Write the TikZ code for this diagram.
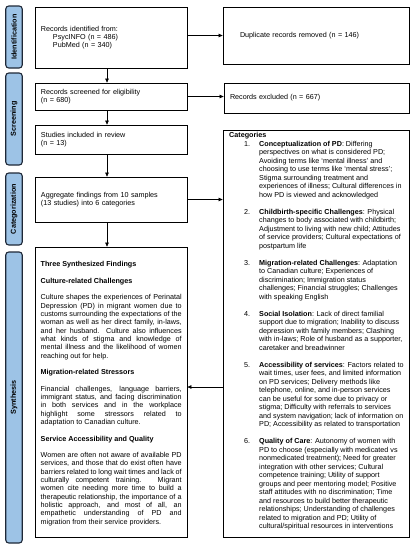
\documentclass[tikz,border=0pt]{standalone}
\usepackage{fontspec}
\setmainfont{Liberation Sans}
\usetikzlibrary{arrows.meta}
\definecolor{stagefill}{RGB}{157,195,230}
\definecolor{stageline}{RGB}{30,40,55}
\begin{document}
\begin{tikzpicture}[x=1pt,y=-1pt,
  font=\fontsize{7.2}{8.3}\selectfont,
  stage/.style={draw=stageline, line width=1.1pt, fill=stagefill, rounded corners=3pt,
    inner sep=0pt, rotate=90, minimum height=16.5pt, font=\fontsize{7.2}{8.3}\selectfont\bfseries},
  box/.style={draw=black, line width=0.8pt, inner sep=0pt, align=left},
  arr/.style={draw=black, line width=0.7pt, -{Triangle[length=4pt,width=3.6pt]}}
]
\useasboundingbox (0,0) rectangle (414,550);

% stage labels
\node[stage, minimum width=62pt] (sid) at (14,37) {Identification};
\node[stage, minimum width=92pt] (sscr) at (14,119) {Screening};
\node[stage, minimum width=72pt] (scat) at (14,209) {Categorization};
\node[stage, minimum width=291pt] (ssyn) at (14,397.5) {Synthesis};

% left column
\node[box, minimum width=152pt, minimum height=61pt, text width=140pt] (b1) at (111,37.5)
  {Records identified from:\\\hspace*{12pt}PsycINFO (n = 486)\\\hspace*{12pt}PubMed (n = 340)};
\node[box, minimum width=152pt, minimum height=27pt, text width=140pt] (b2) at (111,96.5)
  {Records screened for eligibility\\(n = 680)};
\node[box, minimum width=152pt, minimum height=29pt, text width=140pt] (b3) at (111,139.5)
  {Studies included in review\\(n = 13)};
\node[box, minimum width=152pt, minimum height=45pt, text width=140pt] (b4) at (111,199.5)
  {Aggregate findings from 10 samples\\(13 studies) into 6 categories};
\node[box, minimum width=152pt, minimum height=290pt] (b5) at (111,392) {};

% right column
\node[box, minimum width=186pt, minimum height=57pt, text width=152pt] (dup) at (316,35.5)
  {Duplicate records removed (n = 146)};
\node[box, minimum width=185pt, minimum height=30pt, text width=173pt] (excl) at (316.5,98)
  {Records excluded (n = 667)};
\node[box, minimum width=186pt, minimum height=407pt] (cat) at (316,333.5) {};

% synthesis text
\node[anchor=north west, inner sep=0pt, text width=141pt, align=justify] (syntxt) at (40.5,261.3)
{\setlength{\parindent}{0pt}\tolerance=9999\hbadness=10000\hyphenpenalty=10000\exhyphenpenalty=10000%
\textbf{Three Synthesized Findings}\par\vspace{8.3pt}
\textbf{Culture-related Challenges}\par\vspace{8.3pt}
Culture shapes the experiences of Perinatal\linebreak
Depression (PD) in migrant women due to\linebreak
customs surrounding the expectations of the\linebreak
woman as well as her direct family, in-laws,\linebreak
and her husband. Culture also influences\linebreak
what kinds of stigma and knowledge of\linebreak
mental illness and the likelihood of women\linebreak
reaching out for help.\par\vspace{8.3pt}
\textbf{Migration-related Stressors}\par\vspace{8.3pt}
Financial challenges, language barriers,\linebreak
immigrant status, and facing discrimination\linebreak
in both services and in the workplace\linebreak
highlight some stressors related to\linebreak
adaptation to Canadian culture.\par\vspace{8.3pt}
\textbf{Service Accessibility and Quality}\par\vspace{8.3pt}
Women are often not aware of available PD\linebreak
services, and those that do exist often have\linebreak
barriers related to long wait times and lack of\linebreak
culturally competent training. Migrant\linebreak
women cite needing more time to build a\linebreak
therapeutic relationship, the importance of a\linebreak
holistic approach, and most of all, an\linebreak
empathetic understanding of PD and\linebreak
migration from their service providers.\par};

% categories text
\node[anchor=north west, inner sep=0pt, font=\fontsize{7.2}{8.5}\selectfont] (cattxt) at (229,131.5)
{\begin{tabular}{@{\hspace{15pt}}p{15pt}@{}l@{}}
\multicolumn{2}{@{}l@{}}{\textbf{Categories}}\\
1. & \textbf{Conceptualization of PD}: Differing\\
 & perspectives on what is considered PD;\\
 & Avoiding terms like `mental illness' and\\
 & choosing to use terms like `mental stress';\\
 & Stigma surrounding treatment and\\
 & experiences of illness; Cultural differences in\\
 & how PD is viewed and acknowledged\\
 & \\
2. & \textbf{Childbirth-specific Challenges}: Physical\\
 & changes to body associated with childbirth;\\
 & Adjustment to living with new child; Attitudes\\
 & of service providers; Cultural expectations of\\
 & postpartum life\\
 & \\
3. & \textbf{Migration-related Challenges}: Adaptation\\
 & to Canadian culture; Experiences of\\
 & discrimination; Immigration status\\
 & challenges; Financial struggles; Challenges\\
 & with speaking English\\
 & \\
4. & \textbf{Social Isolation}: Lack of direct familial\\
 & support due to migration; Inability to discuss\\
 & depression with family members; Clashing\\
 & with in-laws; Role of husband as a supporter,\\
 & caretaker and breadwinner\\
 & \\
5. & \textbf{Accessibility of services}: Factors related to\\
 & wait times, user fees, and limited information\\
 & on PD services; Delivery methods like\\
 & telephone, online, and in-person services\\
 & can be useful for some due to privacy or\\
 & stigma; Difficulty with referrals to services\\
 & and system navigation; lack of information on\\
 & PD; Accessibility as related to transportation\\
 & \\
6. & \textbf{Quality of Care}: Autonomy of women with\\
 & PD to choose (especially with medicated vs\\
 & nonmedicated treatment); Need for greater\\
 & integration with other services; Cultural\\
 & competence training; Utility of support\\
 & groups and peer mentoring model; Positive\\
 & staff attitudes with no discrimination; Time\\
 & and resources to build better therapeutic\\
 & relationships; Understanding of challenges\\
 & related to migration and PD; Utility of\\
 & cultural/spiritual resources in interventions
\end{tabular}};

% connectors
\draw[arr] ([xshift=-4pt]b1.south) -- ([xshift=-4pt]b1.south |- b2.north);
\draw[arr] ([xshift=-4pt]b2.south) -- ([xshift=-4pt]b2.south |- b3.north);
\draw[arr] ([xshift=-4pt]b3.south) -- ([xshift=-4pt]b3.south |- b4.north);
\draw[arr] ([xshift=-4pt]b4.south) -- ([xshift=-4pt]b4.south |- b5.north);
\draw[arr] (dup.west -| b1.east) -- (dup.west);
\draw[arr] (b2.east) -- (b2.east -| excl.west);
\draw[arr] (b4.east) -- (b4.east -| cat.west);
\draw[arr] ([yshift=5pt]b5.east -| cat.west) -- ([yshift=5pt]b5.east);
\end{tikzpicture}
\end{document}
